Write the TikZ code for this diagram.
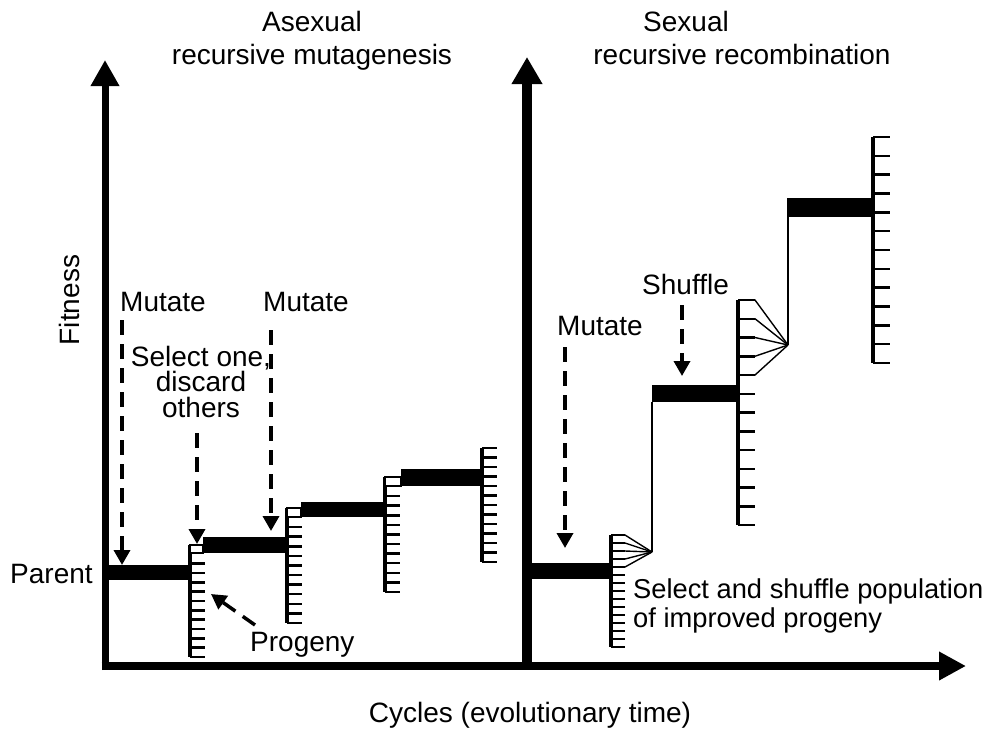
\documentclass[tikz,border=0pt]{standalone}
\usepackage{fontspec}
\setmainfont{Liberation Sans}
\usetikzlibrary{arrows.meta}
\begin{document}
\begin{tikzpicture}[x=1pt,y=-1pt,
  lbl/.style={font=\fontsize{28}{28}\selectfont, inner sep=0pt, anchor=base west},
  clbl/.style={font=\fontsize{28}{28}\selectfont, inner sep=0pt, anchor=base},
  tight/.style={text height=19pt, text depth=5pt},
  bar/.style={fill=black, draw=none},
  ladv/.style={line width=4pt},
  rung/.style={line width=2.5pt},
  boxst/.style={line width=2.2pt, fill=white},
  thin/.style={line width=2pt},
  fanline/.style={line width=1.4pt},
  dasharrow/.style={line width=3.5pt, dash pattern=on 15pt off 9pt, -{Triangle[length=15pt,width=16pt]}},
]
\useasboundingbox (0,0) rectangle (990,731);

% ---------- axes ----------
\coordinate (yA0) at (105,670);
\coordinate (yA1) at (105,60);
\coordinate (xA0) at (101.5,666);
\coordinate (xA1) at (966,666);
\coordinate (yB0) at (527,663);
\coordinate (yB1) at (527,57);
\draw[line width=7pt, -{Triangle[length=26pt,width=27pt]}] (yA0) -- (yA1);
\draw[line width=7.5pt, -{Triangle[length=27pt,width=27pt]}] (xA0) -- (xA1);
\draw[line width=10pt, -{Triangle[length=27pt,width=29pt]}] (yB0) -- (yB1);

% ---------- left: asexual ----------
\fill[bar] (108,565) rectangle (190,580);
% ladder 1
\draw[ladv] (190,545) -- (190,657);
\foreach \k in {2,...,12} \draw[rung] (190,545+\k*9.33) -- ++(15,0);
\draw[boxst] (190,545) rectangle (203,553);
\fill[bar] (203,537) rectangle (287,553);
% ladder 2
\draw[ladv] (287,508) -- (287,623);
\foreach \k in {2,...,12} \draw[rung] (287,508+\k*9.58) -- ++(15,0);
\draw[boxst] (287,508) rectangle (301,517);
\fill[bar] (301,502) rectangle (385,517);
% ladder 3
\draw[ladv] (385,477) -- (385,592);
\foreach \k in {2,...,12} \draw[rung] (385,477+\k*9.58) -- ++(15,0);
\draw[boxst] (385,477) rectangle (401,486);
\fill[bar] (401,469) rectangle (482,486);
% ladder 4
\draw[ladv] (482,448) -- (482,562);
\foreach \k in {0,...,12} \draw[rung] (482,448+\k*9.5) -- ++(15,0);

% ---------- right: sexual ----------
\fill[bar] (531,563) rectangle (611,579);
% ladder R1
\draw[ladv] (611,535) -- (611,647);
\coordinate (fan1) at (652,552);
\foreach \k in {0,...,4} \draw[fanline] (611,535+\k*8) -- ++(14,0) -- (fan1);
\foreach \k in {0,...,14} \draw[rung] (611,535+\k*8) -- ++(14,0);
\draw[thin] (fan1) -- (652,402);
\fill[bar] (652,385) rectangle (737,402);
% ladder R2
\draw[ladv] (738,300) -- (738,525);
\coordinate (fan2) at (788,345);
\foreach \k in {0,...,4} \draw[fanline] (738,300+\k*18.75) -- ++(17,0) -- (fan2);
\foreach \k in {0,...,12} \draw[rung] (738,300+\k*18.75) -- ++(17,0);
\draw[thin] (fan2) -- (788,217);
\fill[bar] (787,198) rectangle (873,217);
% ladder R3
\draw[ladv] (873,137) -- (873,363);
\foreach \k in {0,...,12} \draw[rung] (873,137+\k*18.83) -- ++(17,0);

% ---------- dashed arrows ----------
\coordinate (a1s) at (122,320); \coordinate (a1e) at (122,565);
\coordinate (a2s) at (197,433); \coordinate (a2e) at (197,544);
\coordinate (a3s) at (271,330); \coordinate (a3e) at (271,531);
\coordinate (a4s) at (255,625); \coordinate (a4e) at (211,594);
\coordinate (a5s) at (565,347); \coordinate (a5e) at (565,548);
\coordinate (a6s) at (682,305); \coordinate (a6e) at (682,376);
\draw[dasharrow] (a1s) -- (a1e);
\draw[dasharrow] (a2s) -- (a2e);
\draw[dasharrow] (a3s) -- (a3e);
\draw[dasharrow] (a4s) -- (a4e);
\draw[dasharrow] (a5s) -- (a5e);
\draw[dasharrow] (a6s) -- (a6e);

% ---------- labels ----------
\node[clbl] (t1a) at (312,31) {Asexual};
\node[clbl] (t1b) at (312,64) {recursive mutagenesis};
\node[lbl] (t2a) at (643,31) {Sexual};
\node[clbl] (t2b) at (742,64) {recursive recombination};
\node[clbl, rotate=90] (fit) at (79,300) {Fitness};
\node[lbl] (par) at (10,583) {Parent};
\node[lbl] (mut1) at (120,311) {Mutate};
\node[lbl] (mut2) at (263,311) {Mutate};
\node[clbl, tight] (sel1) at (201,366) {Select one,};
\node[clbl, tight] (sel2) at (201,391.5) {discard};
\node[clbl, tight] (sel3) at (201,417) {others};
\node[lbl] (prog) at (250,651) {Progeny};
\node[lbl] (mut3) at (557,335) {Mutate};
\node[lbl] (shuf) at (642,294) {Shuffle};
\node[lbl, font=\fontsize{27.3}{28}\selectfont] (ssp1) at (633,598) {Select and shuffle population};
\node[lbl, font=\fontsize{27.3}{28}\selectfont] (ssp2) at (633,627) {of improved progeny};
\node[clbl] (cyc) at (530,722) {Cycles (evolutionary time)};
\end{tikzpicture}
\end{document}
